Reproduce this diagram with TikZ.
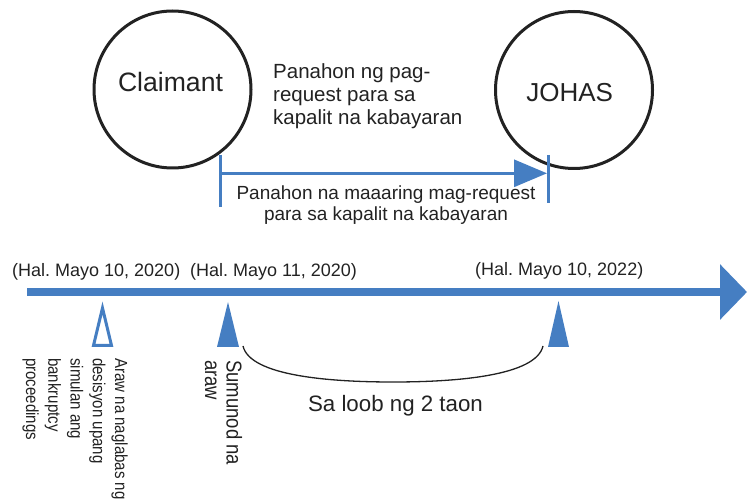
\documentclass[tikz,border=0pt]{standalone}
\usepackage{fontspec}
\setmainfont{Liberation Sans}
\newfontfamily\narrowfont[FakeStretch=0.86]{Liberation Sans}
\usetikzlibrary{arrows.meta}
\definecolor{tlblue}{RGB}{69,126,194}
\definecolor{ink}{RGB}{34,34,34}
\frenchspacing
\begin{document}
\begin{tikzpicture}[x=1pt,y=-1pt,
  txt/.style={inner sep=0pt, text=ink},
  ring/.style={circle, draw=ink, line width=3pt, minimum size=157pt, inner sep=0pt},
  blueline/.style={draw=tlblue, line width=3pt},
  marker/.style={fill=tlblue},
  openmarker/.style={draw=tlblue, line width=3pt, fill=white},
  brace/.style={draw=ink, line width=1.3pt},
  vtext/.style={txt, rotate=-90, anchor=base west, align=left}]
\useasboundingbox (0,0) rectangle (747,502);
% circles
\node[ring] (claimantc) at (172.5,89.5) {};
\node[ring] (johasc) at (574,90) {};
\node[txt, anchor=base, font=\fontsize{26.6}{30}\selectfont] (claimant) at (170.5,91.5) {Claimant};
\node[txt, anchor=base, font=\fontsize{26}{30}\selectfont] (johas) at (569.7,101.7) {JOHAS};
\node[txt, anchor=base west, align=left, font=\fontsize{20.5}{23.3}\selectfont] (period) at (273,124.9) {Panahon ng pag-\\request para sa\\kapalit na kabayaran};
% bracket arrow
\coordinate (bL0) at (220,155); \coordinate (bL1) at (220,207);
\coordinate (bR0) at (548,155); \coordinate (bR1) at (548,203);
\coordinate (bA0) at (220,173.3); \coordinate (bA1) at (547,173.3);
\draw[blueline] (bL0) -- (bL1);
\draw[blueline] (bR0) -- (bR1);
\draw[blueline, -{Triangle[length=33pt,width=27pt]}] (bA0) -- (bA1);
\node[txt, anchor=base, align=center, font=\fontsize{19}{21.7}\selectfont] (window) at (386,221) {Panahon na maaaring mag-request\\para sa kapalit na kabayaran};
% timeline
\coordinate (tl0) at (27,292); \coordinate (tl1) at (747,292);
\draw[tlblue, line width=8pt, -{Triangle[length=27pt,width=54pt]}] (tl0) -- (tl1);
\node[txt, anchor=base west, font=\fontsize{18}{21}\selectfont] (d1) at (12,277) {(Hal. Mayo 10, 2020)};
\node[txt, anchor=base west, font=\fontsize{18}{21}\selectfont] (d2) at (190,277) {(Hal. Mayo 11, 2020)};
\node[txt, anchor=base west, font=\fontsize{18}{21}\selectfont] (d3) at (475,276) {(Hal. Mayo 10, 2022)};
% markers
\draw[openmarker] (102.5,308) -- (93.5,345.5) -- (111.5,345.5) -- cycle;
\fill[marker] (228,302) -- (217,347) -- (239,347) -- cycle;
\fill[marker] (558.5,301) -- (548,347) -- (569,347) -- cycle;
% brace
\coordinate (cv0) at (243,346); \coordinate (cv1) at (543,346); \coordinate (cvm) at (393,382);
\draw[brace] (cv0) .. controls (250,376) and (330,382) .. (cvm) .. controls (456,382) and (536,376) .. (cv1);
\node[txt, anchor=base, font=\fontsize{22.3}{26}\selectfont] (within) at (395.5,411.7) {Sa loob ng 2 taon};
% rotated labels
\node[vtext, font=\narrowfont\fontsize{17.5}{22.25}\selectfont] (decision) at (26.2,358) {Araw na naglabas ng\\desisyon upang\\simulan ang\\bankruptcy\\proceedings};
\node[vtext, font=\narrowfont\fontsize{21.5}{21.7}\selectfont] (nextday) at (205,360) {Sumunod na\\araw};
\end{tikzpicture}
\end{document}
